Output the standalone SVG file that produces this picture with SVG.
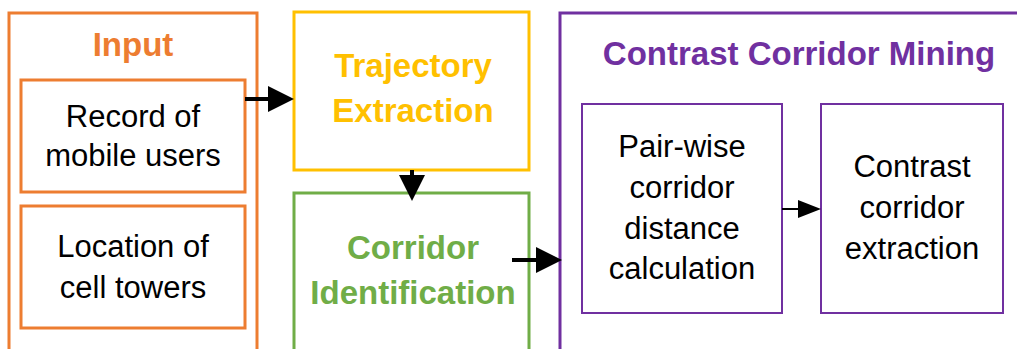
<svg xmlns="http://www.w3.org/2000/svg" width="1017" height="349" viewBox="0 0 1017 349">
  <style>
    .box { fill: #FFFFFF; }
    .orange { stroke: #ED7D31; stroke-width: 3; }
    .yellow { stroke: #FFC000; stroke-width: 3; }
    .green { stroke: #70AD47; stroke-width: 3; }
    .purple { stroke: #7030A0; stroke-width: 3; }
    .purple-thin { stroke: #7030A0; stroke-width: 2; }
    .title { font-family: "Liberation Sans", Arial, sans-serif; font-weight: bold; font-size: 33px; text-anchor: middle; }
    .body { font-family: "Liberation Sans", Arial, sans-serif; font-size: 31px; fill: #000000; text-anchor: middle; }
    .link { fill: none; stroke: #000000; stroke-width: 4; }
    .link-thin { fill: none; stroke: #000000; stroke-width: 2; }
  </style>
  <defs>
    <marker id="head" viewBox="0 0 26 26" refX="0" refY="13" markerWidth="26" markerHeight="26" markerUnits="userSpaceOnUse" orient="auto">
      <path d="M0,0 L26,13 L0,26 Z" fill="#000000"/>
    </marker>
    <marker id="head-small" viewBox="0 0 23 18" refX="0" refY="9" markerWidth="23" markerHeight="18" markerUnits="userSpaceOnUse" orient="auto">
      <path d="M0,0 L23,9 L0,18 Z" fill="#000000"/>
    </marker>
  </defs>
  <rect width="1017" height="349" fill="#FFFFFF"/>

  <!-- Input group -->
  <g id="input">
    <rect class="box orange" x="9" y="13" width="248" height="350"/>
    <text class="title" x="133" y="56" fill="#ED7D31">Input</text>
  </g>
  <g id="record-of-mobile-users">
    <rect class="box orange" x="21" y="80" width="224" height="112"/>
    <text class="body" x="133" y="127">Record of</text>
    <text class="body" x="133" y="166">mobile users</text>
  </g>
  <g id="location-of-cell-towers">
    <rect class="box orange" x="21" y="206" width="224" height="122"/>
    <text class="body" x="133" y="257">Location of</text>
    <text class="body" x="133" y="298">cell towers</text>
  </g>

  <!-- Trajectory extraction -->
  <g id="trajectory-extraction">
    <rect class="box yellow" x="294" y="12" width="235" height="158"/>
    <text class="title" x="413" y="77" fill="#FFC000">Trajectory</text>
    <text class="title" x="413" y="122" fill="#FFC000">Extraction</text>
  </g>

  <!-- Corridor identification -->
  <g id="corridor-identification">
    <rect class="box green" x="294" y="193" width="235" height="170"/>
    <text class="title" x="413" y="259" fill="#70AD47">Corridor</text>
    <text class="title" x="413" y="304" fill="#70AD47">Identification</text>
  </g>

  <!-- Contrast corridor mining -->
  <g id="contrast-corridor-mining">
    <rect class="box purple" x="560" y="13" width="470" height="350"/>
    <text class="title" x="799" y="65" fill="#7030A0" font-size="34">Contrast Corridor Mining</text>
  </g>
  <g id="pair-wise-distance">
    <rect class="box purple-thin" x="582" y="104" width="200" height="209"/>
    <text class="body" x="682" y="157">Pair-wise</text>
    <text class="body" x="682" y="198">corridor</text>
    <text class="body" x="682" y="239">distance</text>
    <text class="body" x="682" y="279">calculation</text>
  </g>
  <g id="contrast-corridor-extraction">
    <rect class="box purple-thin" x="821" y="104" width="182" height="209"/>
    <text class="body" x="912" y="177">Contrast</text>
    <text class="body" x="912" y="218">corridor</text>
    <text class="body" x="912" y="259">extraction</text>
  </g>

  <!-- Connectors -->
  <g id="connectors">
    <path class="link" d="M245,99 H268" marker-end="url(#head)"/>
    <path class="link" d="M412,170 V175" marker-end="url(#head)"/>
    <path class="link" d="M512,260 H536" marker-end="url(#head)"/>
    <path class="link-thin" d="M782,209 H798" marker-end="url(#head-small)"/>
  </g>
</svg>
